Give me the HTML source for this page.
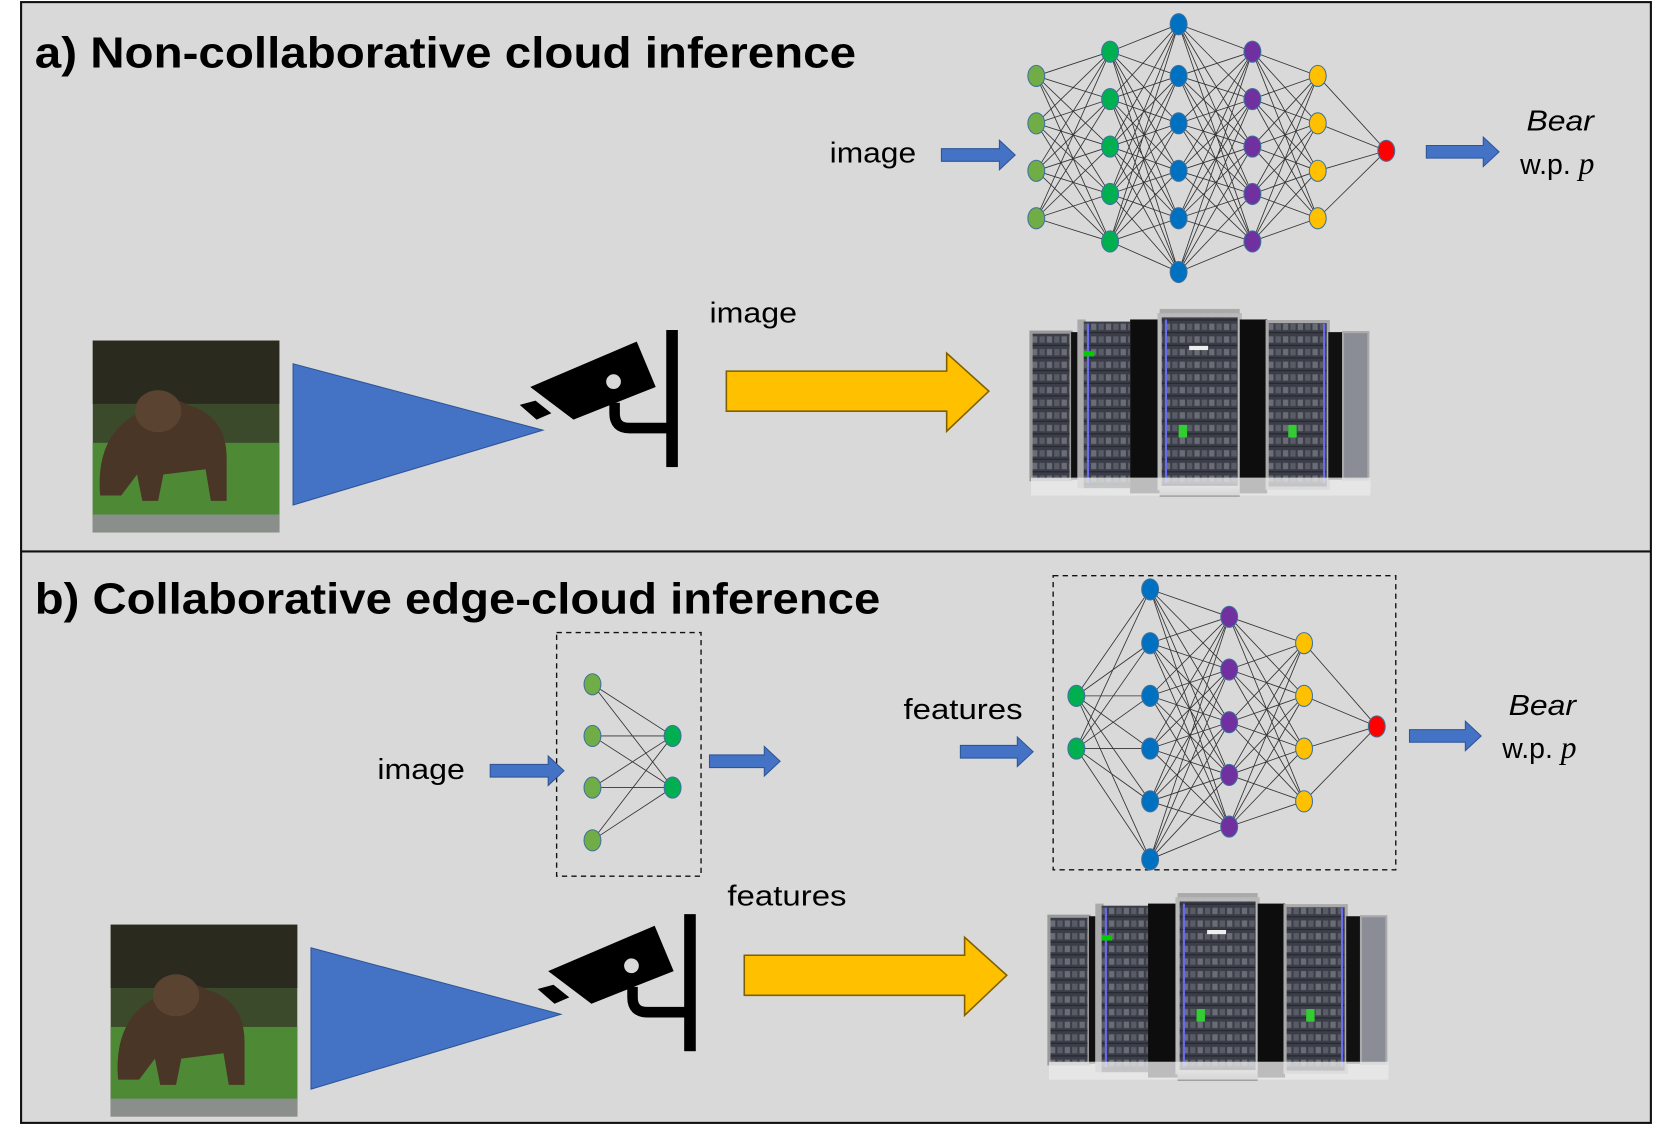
<!DOCTYPE html>
<html><head><meta charset="utf-8"><style>
html,body{margin:0;padding:0;background:#fff;}
svg{display:block;}
text{font-family:"Liberation Sans","DejaVu Sans",sans-serif;}
</style></head><body>
<svg width="1653" height="1125" viewBox="0 0 1568 1067" preserveAspectRatio="none" xmlns="http://www.w3.org/2000/svg">
<defs>
<pattern id="rack" width="14" height="12" patternUnits="userSpaceOnUse">
<rect width="14" height="12" fill="#3b3e48"/>
<rect x="1" y="2" width="5" height="6" fill="#6a6d76"/>
<rect x="8" y="2" width="5" height="6" fill="#595c66"/>
<rect x="0" y="10" width="14" height="1" fill="#22242a"/>
</pattern>
<linearGradient id="metal" x1="0" x2="0" y1="0" y2="1"><stop offset="0" stop-color="#ccc"/><stop offset="1" stop-color="#888"/></linearGradient>
<g id="servers">
<rect x="0" y="22" width="38" height="140" fill="url(#rack)" stroke="#999" stroke-width="3"/>
<rect x="38" y="22" width="6" height="140" fill="#111"/>
<rect x="44" y="10" width="8" height="160" fill="#aaa"/>
<rect x="50" y="12" width="44" height="158" fill="url(#rack)"/>
<line x1="54" y1="14" x2="54" y2="165" stroke="#6a6cf0" stroke-width="2"/>
<rect x="94" y="10" width="28" height="165" fill="#0d0d0d"/>
<rect x="122" y="0" width="76" height="8" fill="#aaa"/>
<rect x="122" y="6" width="76" height="164" fill="url(#rack)" stroke="#b9b9b9" stroke-width="4"/>
<line x1="128" y1="10" x2="128" y2="165" stroke="#6a6cf0" stroke-width="2"/>
<rect x="122" y="168" width="76" height="10" fill="url(#metal)"/>
<rect x="198" y="10" width="26" height="165" fill="#0d0d0d"/>
<rect x="224" y="12" width="58" height="158" fill="url(#rack)" stroke="#aaa" stroke-width="3"/>
<line x1="278" y1="14" x2="278" y2="165" stroke="#6a6cf0" stroke-width="2"/>
<rect x="282" y="22" width="14" height="140" fill="#111"/>
<rect x="296" y="22" width="24" height="140" fill="#8a8d95" stroke="#aaa" stroke-width="2"/>
<rect x="0" y="160" width="322" height="17" fill="#e8e8e8" opacity="0.8"/>
<rect x="50" y="40" width="10" height="5" fill="#0c0"/><rect x="140" y="110" width="8" height="12" fill="#3c3"/>
<rect x="244" y="110" width="8" height="12" fill="#3c3"/><rect x="150" y="35" width="18" height="4" fill="#eee"/>
</g>
</defs>
<rect x="0" y="0" width="1568" height="1067" fill="#fff"/>
<rect x="20" y="2" width="1546" height="1063" fill="#d9d9d9" stroke="#111" stroke-width="2"/>
<line x1="20" y1="523" x2="1566" y2="523" stroke="#111" stroke-width="2"/>

<text x="33" y="64" font-size="41" font-weight="bold" fill="#000" textLength="779" lengthAdjust="spacingAndGlyphs">a) Non-collaborative cloud inference</text>
<text x="33" y="582" font-size="41" font-weight="bold" fill="#000" textLength="802" lengthAdjust="spacingAndGlyphs">b) Collaborative edge-cloud inference</text>

<!-- network a -->
<g stroke="#333" stroke-width="0.8">
<path d="M983 72L1053 49M983 72L1053 94M983 72L1053 139M983 72L1053 184M983 72L1053 229M983 117L1053 49M983 117L1053 94M983 117L1053 139M983 117L1053 184M983 117L1053 229M983 162L1053 49M983 162L1053 94M983 162L1053 139M983 162L1053 184M983 162L1053 229M983 207L1053 49M983 207L1053 94M983 207L1053 139M983 207L1053 184M983 207L1053 229"/>
<path d="M1053 49L1118 23M1053 49L1118 72M1053 49L1118 117M1053 49L1118 162M1053 49L1118 207M1053 49L1118 258M1053 94L1118 23M1053 94L1118 72M1053 94L1118 117M1053 94L1118 162M1053 94L1118 207M1053 94L1118 258M1053 139L1118 23M1053 139L1118 72M1053 139L1118 117M1053 139L1118 162M1053 139L1118 207M1053 139L1118 258M1053 184L1118 23M1053 184L1118 72M1053 184L1118 117M1053 184L1118 162M1053 184L1118 207M1053 184L1118 258M1053 229L1118 23M1053 229L1118 72M1053 229L1118 117M1053 229L1118 162M1053 229L1118 207M1053 229L1118 258"/>
<path d="M1188 49L1118 23M1188 49L1118 72M1188 49L1118 117M1188 49L1118 162M1188 49L1118 207M1188 49L1118 258M1188 94L1118 23M1188 94L1118 72M1188 94L1118 117M1188 94L1118 162M1188 94L1118 207M1188 94L1118 258M1188 139L1118 23M1188 139L1118 72M1188 139L1118 117M1188 139L1118 162M1188 139L1118 207M1188 139L1118 258M1188 184L1118 23M1188 184L1118 72M1188 184L1118 117M1188 184L1118 162M1188 184L1118 207M1188 184L1118 258M1188 229L1118 23M1188 229L1118 72M1188 229L1118 117M1188 229L1118 162M1188 229L1118 207M1188 229L1118 258"/>
<path d="M1188 49L1250 72M1188 49L1250 117M1188 49L1250 162M1188 49L1250 207M1188 94L1250 72M1188 94L1250 117M1188 94L1250 162M1188 94L1250 207M1188 139L1250 72M1188 139L1250 117M1188 139L1250 162M1188 139L1250 207M1188 184L1250 72M1188 184L1250 117M1188 184L1250 162M1188 184L1250 207M1188 229L1250 72M1188 229L1250 117M1188 229L1250 162M1188 229L1250 207"/>
<path d="M1250 72L1315 143M1250 117L1315 143M1250 162L1315 143M1250 207L1315 143"/>
</g>
<g stroke="#41719c" stroke-width="1">
<g fill="#70ad47"><ellipse cx="983" cy="72" rx="8" ry="10"/><ellipse cx="983" cy="117" rx="8" ry="10"/><ellipse cx="983" cy="162" rx="8" ry="10"/><ellipse cx="983" cy="207" rx="8" ry="10"/></g>
<g fill="#00b050"><ellipse cx="1053" cy="49" rx="8" ry="10"/><ellipse cx="1053" cy="94" rx="8" ry="10"/><ellipse cx="1053" cy="139" rx="8" ry="10"/><ellipse cx="1053" cy="184" rx="8" ry="10"/><ellipse cx="1053" cy="229" rx="8" ry="10"/></g>
<g fill="#0070c0"><ellipse cx="1118" cy="23" rx="8" ry="10"/><ellipse cx="1118" cy="72" rx="8" ry="10"/><ellipse cx="1118" cy="117" rx="8" ry="10"/><ellipse cx="1118" cy="162" rx="8" ry="10"/><ellipse cx="1118" cy="207" rx="8" ry="10"/><ellipse cx="1118" cy="258" rx="8" ry="10"/></g>
<g fill="#7030a0"><ellipse cx="1188" cy="49" rx="8" ry="10"/><ellipse cx="1188" cy="94" rx="8" ry="10"/><ellipse cx="1188" cy="139" rx="8" ry="10"/><ellipse cx="1188" cy="184" rx="8" ry="10"/><ellipse cx="1188" cy="229" rx="8" ry="10"/></g>
<g fill="#ffc000"><ellipse cx="1250" cy="72" rx="8" ry="10"/><ellipse cx="1250" cy="117" rx="8" ry="10"/><ellipse cx="1250" cy="162" rx="8" ry="10"/><ellipse cx="1250" cy="207" rx="8" ry="10"/></g>
<ellipse cx="1315" cy="143" rx="8" ry="10" fill="#ff0000"/>
</g>

<!-- network b edge -->
<rect x="528" y="600" width="137" height="231" fill="none" stroke="#111" stroke-width="1.3" stroke-dasharray="5,4"/>
<g stroke="#333" stroke-width="0.8">
<path d="M562 649L638 698M562 649L638 747M562 698L638 698M562 698L638 747M562 747L638 698M562 747L638 747M562 797L638 698M562 797L638 747"/>
</g>
<g stroke="#41719c" stroke-width="1">
<g fill="#70ad47"><ellipse cx="562" cy="649" rx="8" ry="10"/><ellipse cx="562" cy="698" rx="8" ry="10"/><ellipse cx="562" cy="747" rx="8" ry="10"/><ellipse cx="562" cy="797" rx="8" ry="10"/></g>
<g fill="#00b050"><ellipse cx="638" cy="698" rx="8" ry="10"/><ellipse cx="638" cy="747" rx="8" ry="10"/></g>
</g>

<!-- network b cloud -->
<rect x="999" y="546" width="325" height="279" fill="none" stroke="#111" stroke-width="1.3" stroke-dasharray="5,4"/>
<g stroke="#333" stroke-width="0.8">
<path d="M1021 660L1091 559M1021 660L1091 610M1021 660L1091 660M1021 660L1091 710M1021 660L1091 760M1021 660L1091 815M1021 710L1091 559M1021 710L1091 610M1021 710L1091 660M1021 710L1091 710M1021 710L1091 760M1021 710L1091 815"/>
<path d="M1166 585L1091 559M1166 585L1091 610M1166 585L1091 660M1166 585L1091 710M1166 585L1091 760M1166 585L1091 815M1166 635L1091 559M1166 635L1091 610M1166 635L1091 660M1166 635L1091 710M1166 635L1091 760M1166 635L1091 815M1166 685L1091 559M1166 685L1091 610M1166 685L1091 660M1166 685L1091 710M1166 685L1091 760M1166 685L1091 815M1166 735L1091 559M1166 735L1091 610M1166 735L1091 660M1166 735L1091 710M1166 735L1091 760M1166 735L1091 815M1166 784L1091 559M1166 784L1091 610M1166 784L1091 660M1166 784L1091 710M1166 784L1091 760M1166 784L1091 815"/>
<path d="M1166 585L1237 610M1166 585L1237 660M1166 585L1237 710M1166 585L1237 760M1166 635L1237 610M1166 635L1237 660M1166 635L1237 710M1166 635L1237 760M1166 685L1237 610M1166 685L1237 660M1166 685L1237 710M1166 685L1237 760M1166 735L1237 610M1166 735L1237 660M1166 735L1237 710M1166 735L1237 760M1166 784L1237 610M1166 784L1237 660M1166 784L1237 710M1166 784L1237 760"/>
<path d="M1237 610L1306 689M1237 660L1306 689M1237 710L1306 689M1237 760L1306 689"/>
</g>
<g stroke="#41719c" stroke-width="1">
<g fill="#00b050"><ellipse cx="1021" cy="660" rx="8" ry="10"/><ellipse cx="1021" cy="710" rx="8" ry="10"/></g>
<g fill="#0070c0"><ellipse cx="1091" cy="559" rx="8" ry="10"/><ellipse cx="1091" cy="610" rx="8" ry="10"/><ellipse cx="1091" cy="660" rx="8" ry="10"/><ellipse cx="1091" cy="710" rx="8" ry="10"/><ellipse cx="1091" cy="760" rx="8" ry="10"/><ellipse cx="1091" cy="815" rx="8" ry="10"/></g>
<g fill="#7030a0"><ellipse cx="1166" cy="585" rx="8" ry="10"/><ellipse cx="1166" cy="635" rx="8" ry="10"/><ellipse cx="1166" cy="685" rx="8" ry="10"/><ellipse cx="1166" cy="735" rx="8" ry="10"/><ellipse cx="1166" cy="784" rx="8" ry="10"/></g>
<g fill="#ffc000"><ellipse cx="1237" cy="610" rx="8" ry="10"/><ellipse cx="1237" cy="660" rx="8" ry="10"/><ellipse cx="1237" cy="710" rx="8" ry="10"/><ellipse cx="1237" cy="760" rx="8" ry="10"/></g>
<ellipse cx="1306" cy="689" rx="8" ry="10" fill="#ff0000"/>
</g>

<!-- blue arrows -->
<g fill="#4472c4" stroke="#2f5597" stroke-width="1">
<path d="M893 141h55v-8l15 14l-15 14v-8h-55z"/>
<path d="M1353 138h54v-8l15 14l-15 14v-8h-54z"/>
<path d="M465 725h55v-8l15 14l-15 14v-8h-55z"/>
<path d="M673 716h52v-8l15 14l-15 14v-8h-52z"/>
<path d="M911 707h54v-8l15 14l-15 14v-8h-54z"/>
<path d="M1337 692h53v-8l15 14l-15 14v-8h-53z"/>
</g>

<!-- labels -->
<g font-size="27" fill="#000">
<text x="787" y="154" textLength="82" lengthAdjust="spacingAndGlyphs">image</text>
<text x="673" y="306" textLength="83" lengthAdjust="spacingAndGlyphs">image</text>
<text x="358" y="739" textLength="83" lengthAdjust="spacingAndGlyphs">image</text>
<text x="857" y="682" textLength="113" lengthAdjust="spacingAndGlyphs">features</text>
<text x="690" y="859" textLength="113" lengthAdjust="spacingAndGlyphs">features</text>
<text x="1448" y="124" font-style="italic" textLength="64" lengthAdjust="spacingAndGlyphs">Bear</text>
<text x="1442" y="165">w.p. <tspan font-style="italic" font-family="Liberation Serif, serif" font-size="30">p</tspan></text>
<text x="1431" y="678" font-style="italic" textLength="64" lengthAdjust="spacingAndGlyphs">Bear</text>
<text x="1425" y="719">w.p. <tspan font-style="italic" font-family="Liberation Serif, serif" font-size="30">p</tspan></text>
</g>

<!-- scene a -->
<g id="scene">
<rect x="88" y="323" width="177" height="182" fill="#3b4a2a"/>
<rect x="88" y="323" width="177" height="60" fill="#2a2a1e"/>
<rect x="88" y="420" width="177" height="70" fill="#4e8a36"/>
<rect x="88" y="488" width="177" height="17" fill="#8a8f8c"/>
<path d="M95 470 q-5 -60 40 -80 q20 -20 45 -5 q35 10 35 50 l0 40 l-15 0 l-5 -30 l-40 5 l-5 25 l-15 0 l-5 -25 l-15 20z" fill="#4a3626"/>
<ellipse cx="150" cy="390" rx="22" ry="20" fill="#5a4330"/>
<polygon points="278,345 278,479 515,408" fill="#4472c4" stroke="#2f5597" stroke-width="1"/>
<polygon points="503,367 604,324 622,367 544,398" fill="#000"/>
<polygon points="493,384 508,380 523,392 509,398" fill="#000"/>
<circle cx="582" cy="362" r="7" fill="#d9d9d9"/>
<path d="M583,382 v10 q0,14 14,14 h42" fill="none" stroke="#000" stroke-width="10"/>
<rect x="632" y="313" width="11" height="130" fill="#000"/>
<path d="M689 352h209v-17l40 36l-40 38v-19h-209z" fill="#ffc000" stroke="#7f6000" stroke-width="1.5"/>
<use href="#servers" x="978" y="293"/>
</g>
<use href="#scene" x="17" y="554"/>
</svg>
</body></html>
